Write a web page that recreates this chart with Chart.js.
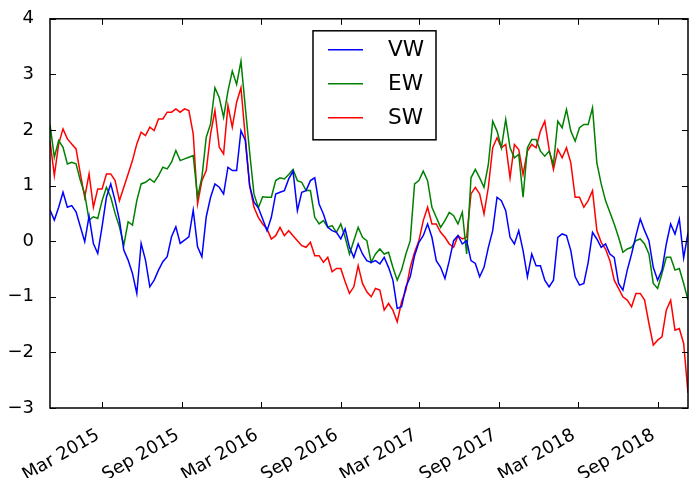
<!DOCTYPE html>
<html>
<head>
<meta charset="utf-8">
<script src="https://cdn.jsdelivr.net/npm/chart.js@4.4.0/dist/chart.umd.min.js"></script>
<style>
  html, body { margin: 0; padding: 0; background: #fff; }
</style>
</head>
<body>
<canvas id="chart" width="689" height="478"></canvas>
<script>
// ---- Data (one value every 10 days from 1 Nov 2014) ----
const seriesNames = ['VW', 'EW', 'SW'];
const seriesColors = ['#0000ff', '#008000', '#ff0000'];
const startDate = '2014-11-01';
const stepDays = 10;

const vw = [
  0.56, 0.38, 0.61, 0.88, 0.61, 0.64, 0.53, 0.26, -0.01, 0.45,
  -0.04, -0.22, 0.26, 0.79, 1.03, 0.73, 0.38, -0.16, -0.34, -0.58,
  -0.94, -0.04, -0.34, -0.82, -0.70, -0.52, -0.37, -0.28, 0.08, 0.26,
  -0.04, 0.02, 0.08, 0.56, -0.10, -0.28, 0.44, 0.79, 1.03, 0.97,
  0.85, 1.33, 1.27, 1.27, 1.99, 1.81, 1.00, 0.70, 0.60, 0.40,
  0.19, 0.43, 0.85, 0.88, 0.91, 1.12, 1.26, 0.55, 0.88, 0.91,
  1.09, 1.14, 0.67, 0.49, 0.25, 0.19, 0.16, 0.04, 0.22, -0.11,
  -0.29, -0.05, -0.23, -0.35, -0.38, -0.35, -0.41, -0.29, -0.47, -0.70,
  -1.21, -1.18, -0.82, -0.64, -0.26, -0.02, 0.10, 0.31, 0.07, -0.35,
  -0.47, -0.67, -0.35, 0.01, 0.10, -0.05, 0.01, -0.35,
  -0.40, -0.64, -0.47, -0.11, 0.19, 0.79, 0.73, 0.55, 0.07, -0.05,
  0.19, -0.17, -0.64, -0.23, -0.44, -0.44, -0.70, -0.82, -0.70, 0.07,
  0.13, 0.10, -0.17, -0.64, -0.79, -0.76, -0.38, 0.16, 0.04, -0.11,
  -0.05, -0.23, -0.29, -0.76, -0.88, -0.52, -0.23, 0.10, 0.40, 0.19,
  0.01, -0.47, -0.70, -0.52, -0.05, 0.31, 0.13, 0.40, -0.30, 0.15
];

const ew = [
  2.10, 1.51, 1.81, 1.69, 1.39, 1.42, 1.39, 1.09, 0.85, 0.38,
  0.44, 0.41, 0.73, 0.97, 0.79, 0.50, 0.26, -0.07, 0.35, 0.29,
  0.73, 1.03, 1.06, 1.12, 1.06, 1.18, 1.33, 1.30, 1.42, 1.63,
  1.45, 1.48, 1.51, 1.54, 0.79, 1.15, 1.87, 2.11, 2.76, 2.58,
  2.23, 2.70, 3.06, 2.82, 3.24, 2.41, 1.60, 0.85, 0.60, 0.80,
  0.79, 0.79, 1.09, 1.14, 1.12, 1.20, 1.29, 1.09, 1.06, 0.91,
  0.91, 0.43, 0.31, 0.37, 0.25, 0.28, 0.16, 0.31, 0.07, -0.23,
  0.01, 0.25, 0.07, 0.01, -0.38, -0.23, -0.14, -0.23, -0.20, -0.47,
  -0.70, -0.52, -0.23, 0.01, 1.03, 1.09, 1.26, 1.09, 0.61, 0.43,
  0.25, 0.37, 0.52, 0.46, 0.31, 0.52, -0.23, 1.14,
  1.29, 1.14, 0.97, 1.38, 2.16, 1.98, 1.68, 2.19, 1.68, 1.50,
  1.56, 0.79, 1.68, 1.83, 1.83, 1.62, 1.53, 1.62, 1.38, 2.16,
  2.04, 2.37, 1.98, 1.80, 2.04, 2.10, 2.10, 2.40, 1.41, 1.03,
  0.73, 0.52, 0.31, 0.07, -0.20, -0.14, -0.11, 0.01, 0.04, -0.05,
  -0.23, -0.76, -0.85, -0.58, -0.29, -0.29, -0.52, -0.49, -0.76, -1.06
];

const sw = [
  1.80, 1.18, 1.75, 2.02, 1.84, 1.75, 1.66, 1.21, 0.79, 1.21,
  0.61, 0.94, 0.94, 1.21, 1.21, 1.09, 0.73, 0.97, 1.21, 1.45,
  1.75, 1.96, 1.90, 2.05, 1.99, 2.20, 2.20, 2.32, 2.32, 2.38,
  2.32, 2.38, 2.35, 1.93, 0.67, 1.09, 1.27, 1.93, 2.35, 1.69,
  1.57, 2.44, 2.05, 2.50, 2.76, 1.87, 1.00, 0.61, 0.43, 0.31,
  0.22, 0.04, 0.10, 0.25, 0.10, 0.19, 0.10, 0.01, -0.08, -0.11,
  -0.02, -0.26, -0.26, -0.38, -0.29, -0.55, -0.49, -0.49, -0.73, -0.94,
  -0.82, -0.44, -0.76, -0.91, -1.00, -0.85, -0.88, -1.24, -1.12, -1.24,
  -1.45, -1.09, -0.88, -0.47, -0.20, 0.01, 0.37, 0.61, 0.31, 0.31,
  0.16, 0.07, -0.05, -0.11, 0.10, 0.04, 0.07, 0.85,
  0.97, 0.85, 0.49, 0.97, 1.68, 1.86, 1.68, 1.74, 1.14, 1.74,
  1.65, 1.20, 1.62, 1.74, 1.68, 1.98, 2.16, 1.65, 1.29, 1.65,
  1.50, 1.68, 1.41, 0.79, 0.79, 0.61, 0.73, 0.91, 0.19, -0.02,
  -0.14, -0.35, -0.70, -0.85, -1.00, -1.06, -1.18, -0.94, -0.94, -1.06,
  -1.48, -1.87, -1.78, -1.72, -1.24, -1.06, -1.60, -1.57, -1.84, -2.73
];

const tickDates = ['2015-03-01', '2015-09-01', '2016-03-01', '2016-09-01',
                   '2017-03-01', '2017-09-01', '2018-03-01', '2018-09-01'];
const tickLabels = ['Mar 2015', 'Sep 2015', 'Mar 2016', 'Sep 2016',
                    'Mar 2017', 'Sep 2017', 'Mar 2018', 'Sep 2018'];
const yTicks = [-3, -2, -1, 0, 1, 2, 3, 4];

// ---- Build ----
const DAY = 86400000;
const t0 = Date.parse(startDate);
const xs = vw.map((_, i) => t0 + i * stepDays * DAY);
const tickValues = tickDates.map(d => Date.parse(d));
const FONT = 'DejaVu Sans';

function toPoints(arr) { return arr.map((v, i) => ({ x: xs[i], y: v })); }

// matplotlib-classic look: frame, inward ticks on all sides, slanted date labels, boxed legend
const framePlugin = {
  id: 'frame',
  afterDraw(chart) {
    const { ctx, chartArea: a, scales } = chart;
    const len = 6;
    ctx.save();
    ctx.strokeStyle = '#000';
    ctx.lineWidth = 1;
    ctx.beginPath();
    tickValues.forEach(v => {
      const px = Math.round(scales.x.getPixelForValue(v)) + 0.5;
      ctx.moveTo(px, a.bottom); ctx.lineTo(px, a.bottom - len);
      ctx.moveTo(px, a.top); ctx.lineTo(px, a.top + len);
    });
    yTicks.forEach(v => {
      const py = Math.round(scales.y.getPixelForValue(v)) + 0.5;
      ctx.moveTo(a.left, py); ctx.lineTo(a.left + len, py);
      ctx.moveTo(a.right, py); ctx.lineTo(a.right - len, py);
    });
    ctx.stroke();
    ctx.lineWidth = 1.5;
    ctx.strokeRect(a.left, a.top, a.right - a.left, a.bottom - a.top);

    // x tick labels, rotated 30 degrees, right end at the tick
    ctx.fillStyle = '#000';
    ctx.font = `18px "${FONT}"`;
    ctx.textAlign = 'right';
    ctx.textBaseline = 'middle';
    tickValues.forEach((v, i) => {
      const px = scales.x.getPixelForValue(v);
      ctx.save();
      ctx.translate(px - 4, a.bottom + 26);
      ctx.rotate(-Math.PI / 6);
      ctx.fillText(tickLabels[i], 0, 0);
      ctx.restore();
    });

    // legend
    const lx = a.left + 263, ly = a.top + 12, lw = 123, lh = 109;
    ctx.fillStyle = '#fff';
    ctx.fillRect(lx, ly, lw, lh);
    ctx.lineWidth = 1.5;
    ctx.strokeStyle = '#000';
    ctx.strokeRect(lx, ly, lw, lh);
    ctx.font = `21.6px "${FONT}"`;
    ctx.textAlign = 'left';
    chart.data.datasets.forEach((ds, i) => {
      const ry = ly + 19 + i * 34;
      ctx.strokeStyle = ds.borderColor;
      ctx.lineWidth = 1.5;
      ctx.beginPath();
      ctx.moveTo(lx + 15, ry); ctx.lineTo(lx + 50, ry);
      ctx.stroke();
      ctx.fillStyle = '#000';
      ctx.fillText(ds.label, lx + 75, ry + 1);
    });
    ctx.restore();
  }
};

new Chart(document.getElementById('chart'), {
  type: 'line',
  data: {
    datasets: [vw, ew, sw].map((arr, i) => ({
      label: seriesNames[i],
      data: toPoints(arr),
      borderColor: seriesColors[i],
      borderWidth: 1.5,
      pointRadius: 0,
      tension: 0,
      fill: false
    }))
  },
  options: {
    responsive: false,
    animation: false,
    layout: { padding: { top: 17, right: 1, left: 0, bottom: 0 } },
    plugins: { legend: { display: false }, tooltip: { enabled: false } },
    scales: {
      x: {
        type: 'linear',
        min: xs[0],
        max: xs[xs.length - 1],
        grid: { display: false },
        border: { display: false },
        afterBuildTicks: scale => { scale.ticks = tickValues.map(v => ({ value: v })); },
        afterFit: scale => { scale.height = 70; },
        ticks: { display: false }
      },
      y: {
        min: -3,
        max: 4,
        grid: { display: false },
        border: { display: false },
        afterFit: scale => { scale.width = 50; },
        ticks: {
          stepSize: 1,
          padding: 8,
          color: '#000',
          font: { family: FONT, size: 18 },
          callback: v => (v < 0 ? '\u2212' + Math.abs(v) : String(v))
        }
      }
    }
  },
  plugins: [framePlugin]
});
</script>
</body>
</html>
